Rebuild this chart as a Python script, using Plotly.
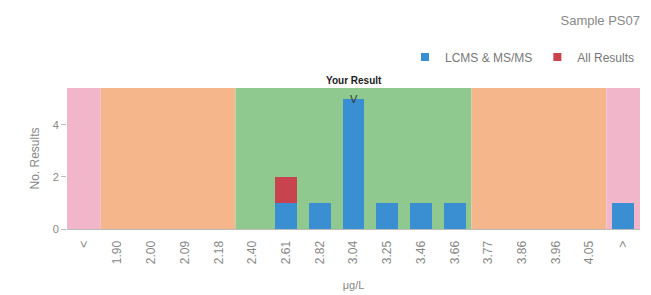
import plotly.graph_objects as go

categories = ["<", "1.90", "2.00", "2.09", "2.18", "2.40", "2.61", "2.82", "3.04",
              "3.25", "3.46", "3.66", "3.77", "3.86", "3.96", "4.05", ">"]
lcms_values = [0, 0, 0, 0, 0, 0, 1, 1, 5, 1, 1, 1, 0, 0, 0, 0, 1]
all_values = [0, 0, 0, 0, 0, 0, 1, 0, 0, 0, 0, 0, 0, 0, 0, 0, 0]
your_result = "3.04"
series_names = ["LCMS & MS/MS", "All Results"]
series_colors = ["#3a8fd3", "#c9434e"]

# zones: (first category, last category, colour)
zones = [("<", "<", "#f1b6c9"),
         ("1.90", "2.18", "#f5b68c"),
         ("2.40", "3.66", "#8fc98f"),
         ("3.77", "4.05", "#f5b68c"),
         (">", ">", "#f1b6c9")]

fig = go.Figure()
for vals, name, col in zip([lcms_values, all_values], series_names, series_colors):
    fig.add_bar(x=categories, y=vals, name=name, showlegend=False,
                marker=dict(color=col, line=dict(width=0)), width=0.65)
# legend entries with small square swatches
for name, col in zip(series_names, series_colors):
    fig.add_scatter(x=[None], y=[None], mode="markers", name=name,
                    marker=dict(symbol="square", size=8, color=col))

shapes = []
for a, b, col in zones:
    shapes.append(dict(type="rect", xref="x", yref="paper",
                       x0=categories.index(a) - 0.5, x1=categories.index(b) + 0.5,
                       y0=0, y1=1, fillcolor=col, line=dict(width=0), layer="below"))

ri = categories.index(your_result)
top = lcms_values[ri] + all_values[ri]

fig.update_layout(
    width=651, height=295,
    barmode="stack",
    paper_bgcolor="white", plot_bgcolor="white",
    margin=dict(l=67, r=11, t=88, b=66, autoexpand=False),
    font=dict(family="Liberation Sans, Arial, sans-serif", size=11, color="#777"),
    shapes=shapes,
    title=dict(text="Sample PS07", xref="paper", x=1, xanchor="right",
               yref="container", y=0.93, yanchor="middle",
               font=dict(size=13, color="#888")),
    legend=dict(orientation="h", x=1.0, xanchor="right", y=1.22, yanchor="middle",
                font=dict(size=12, color="#777"), traceorder="normal",
                itemwidth=30, bgcolor="rgba(0,0,0,0)", tracegroupgap=0),
    xaxis=dict(type="category", categoryorder="array", categoryarray=categories,
               range=[-0.5, len(categories) - 0.5], automargin=False,
               tickangle=-90, tickfont=dict(size=12, color="#888"),
               ticklabelstandoff=6,
               showgrid=False, showline=True, linecolor="#bbb",
               title=dict(text="μg/L", font=dict(size=11, color="#888"), standoff=18)),
    yaxis=dict(range=[0, 5.42], tickvals=[0, 2, 4], showgrid=False, automargin=False,
               ticks="outside", ticklen=5, tickcolor="#bbb",
               tickfont=dict(size=11, color="#888"), zeroline=False,
               title=dict(text="No. Results", font=dict(size=12, color="#888"), standoff=10)),
    annotations=[
        dict(x=ri, y=1, xref="x", yref="paper", text="<b>Your Result</b>",
             showarrow=False, yanchor="bottom", yshift=0,
             font=dict(size=10, color="#222")),
        dict(x=ri, y=top, xref="x", yref="y", text="V",
             showarrow=False, yanchor="middle", font=dict(size=11, color="#333")),
    ],
)

fig.write_html("out.html", config={"displayModeBar": False},
               post_script="document.body.style.margin='0';")
